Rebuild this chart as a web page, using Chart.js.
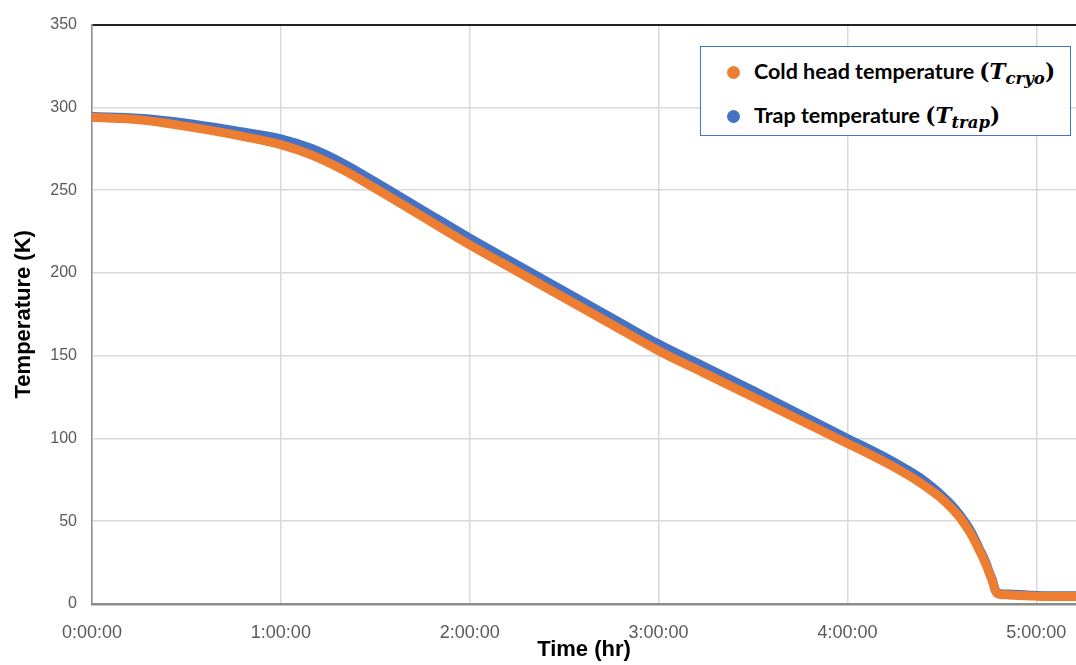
<!DOCTYPE html>
<html>
<head>
<meta charset="utf-8">
<script src="https://cdn.jsdelivr.net/npm/chart.js@4"></script>
<style>
  html, body { margin: 0; padding: 0; background: #fff; }
  #wrap { position: relative; width: 1076px; height: 665px; }
  #legendBox {
    position: absolute; left: 700px; top: 46px; width: 371px; height: 90px;
    border: 1.5px solid #4472C4; background: #fff; box-sizing: border-box;
    font-family: Lato, "Open Sans", sans-serif; font-weight: bold; font-size: 21.5px; color: #000;
  }
  .row { position: absolute; left: 26px; height: 26px; line-height: 26px; white-space: nowrap; }
  .dot { display: inline-block; width: 13px; height: 13px; border-radius: 50%; vertical-align: middle; margin-right: 14px; position: relative; top: -1px; }
  .m { font-family: "DejaVu Serif", "Liberation Serif", serif; font-weight: bold; font-size: 21.5px; }
  .m i { font-style: italic; }
  .m sub { font-size: 16.5px; font-style: italic; vertical-align: -5px; line-height: 0; }
</style>
</head>
<body>
<div id="wrap">
  <canvas id="chartCooldown" width="1076" height="665"></canvas>
  <div id="legendBox">
    <div class="row" style="top:11px"><span class="dot" style="background:#ED7D31"></span>Cold head temperature <span class="m">(<i>T</i><sub>cryo</sub>)</span></div>
    <div class="row" style="top:55px"><span class="dot" style="background:#4472C4"></span>Trap temperature <span class="m">(<i>T</i><sub>trap</sub>)</span></div>
  </div>
</div>
<script>
// time in hours
const timeHr = [0, 0.25, 0.5, 0.75, 1.0, 1.167, 1.333, 1.5, 1.75, 2.0, 2.25, 2.5, 2.75, 3.0, 3.25, 3.5, 3.75, 4.0, 4.125, 4.25, 4.375, 4.45, 4.5, 4.55, 4.6, 4.65, 4.7, 4.733, 4.75, 4.767, 4.783, 4.8, 4.85, 4.95, 5.05, 5.21];
// cold head temperature (K)
const tCryo = [294, 292.5, 288.5, 283.5, 277.5, 271, 262, 251, 234, 217, 201, 185, 169, 153, 139, 125, 111, 97, 90, 82.5, 74, 68, 63.5, 58, 51.5, 43, 32, 24, 19, 14, 8, 6, 5.5, 5, 4.5, 4.5];
// trap temperature (K)
const tTrap = [294.5, 293.5, 290.5, 286, 281, 275, 266, 255, 238, 221, 205, 189, 173, 157, 143, 129, 114.5, 100, 93, 85.5, 77, 70.5, 65.5, 60, 53, 44.5, 33, 25, 19.5, 14.5, 8.5, 6.5, 6, 5.5, 5, 5];
const xTicks = [0, 1, 2, 3, 4, 5];
const yTicks = [0, 50, 100, 150, 200, 250, 300, 350];

function toPts(ys) {
    return timeHr.map((t, i) => ({ x: t, y: ys[i] }));
}

function fmtTime(v) {
    return v + ':00:00';
}

const ctx = document.getElementById('chartCooldown').getContext('2d');
new Chart(ctx, {
    type: 'scatter',
    data: {
        datasets: [{
            label: 'Cold head temperature',
            data: toPts(tCryo),
            showLine: true,
            borderColor: '#ED7D31',
            backgroundColor: '#ED7D31',
            borderWidth: 9,
            borderCapStyle: 'round',
            pointRadius: 0,
            cubicInterpolationMode: 'monotone'
        }, {
            label: 'Trap temperature',
            data: toPts(tTrap),
            showLine: true,
            borderColor: '#4472C4',
            backgroundColor: '#4472C4',
            borderWidth: 9,
            borderCapStyle: 'round',
            pointRadius: 0,
            cubicInterpolationMode: 'monotone'
        }]
    },
    options: {
        responsive: false,
        animation: false,
        layout: { padding: { top: 21, right: 0, left: 0, bottom: 0 } },
        plugins: { legend: { display: false }, tooltip: { enabled: false } },
        scales: {
            x: {
                type: 'linear', min: 0, max: 5.21,
                afterBuildTicks: s => { s.ticks = xTicks.map(v => ({ value: v })); },
                afterFit: s => { s.height = 61; s.paddingLeft = 0; s.paddingRight = 0; },
                ticks: { callback: fmtTime, color: '#595959', padding: 18, autoSkip: false, maxRotation: 0,
                         font: { family: '"Liberation Sans", Arial', size: 18 } },
                grid: { color: '#d9d9d9', lineWidth: 1.5, drawTicks: false },
                border: { color: '#8c8c8c', width: 2.5 },
                title: { display: true, text: 'Time (hr)', color: '#000', padding: { top: 0, bottom: 2 },
                         font: { family: '"Liberation Sans", Arial', size: 22, weight: 'bold' } }
            },
            y: {
                min: 0, max: 350,
                afterBuildTicks: s => { s.ticks = yTicks.map(v => ({ value: v })); },
                afterFit: s => { s.width = 92; },
                ticks: { color: '#595959', padding: 15,
                         font: { family: '"Liberation Sans", Arial', size: 16 } },
                grid: { color: ctx => ctx.tick && ctx.tick.value === 350 ? '#222' : '#d9d9d9',
                        lineWidth: ctx => ctx.tick && ctx.tick.value === 350 ? 2 : 1.5, drawTicks: false },
                border: { color: '#8c8c8c', width: 1.5 },
                title: { display: true, text: 'Temperature (K)', color: '#000', padding: { top: 11, bottom: 0 },
                         font: { family: '"Liberation Sans", Arial', size: 22, weight: 'bold' } }
            }
        }
    }
});
</script>
</body>
</html>
